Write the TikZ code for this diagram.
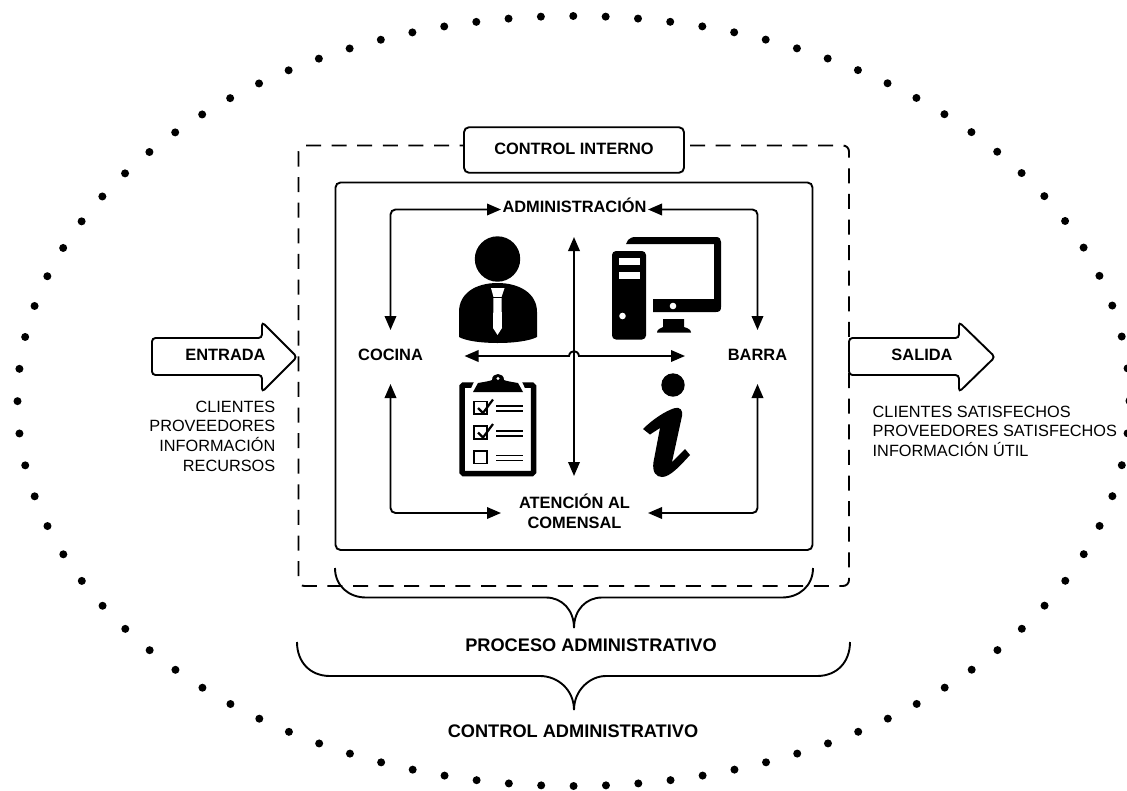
\documentclass[tikz,border=0pt]{standalone}
\usepackage{fontspec}
\setmainfont{Liberation Sans}
\usetikzlibrary{arrows.meta}
\tikzset{
  x=1pt,y=-1pt,
  ln/.style={line width=1.9pt,black},
  conn/.style={ln,rounded corners=5pt},
  tips/.style={{Triangle[length=14pt,width=11.5pt]}-{Triangle[length=14pt,width=11.5pt]}},
  hd/.style={font=\fontsize{16.4}{19.8}\selectfont\bfseries,inner sep=0pt,text height=11.8pt,text depth=0pt,align=center},
  hdbig/.style={font=\fontsize{18.2}{22}\selectfont\bfseries,inner sep=0pt,text height=13pt,text depth=0pt,align=center},
  tx/.style={font=\fontsize{16.3}{19.7}\selectfont,inner sep=0pt},
  block/.style={ln,rounded corners=5pt},
  bigarrow/.style={ln,fill=white,rounded corners=3.5pt},
  brace/.style={ln,fill=none},
  ico/.style={fill=black,draw=none},
  gap/.style={fill=white,draw=none}
}
\begin{document}
\begin{tikzpicture}
\useasboundingbox (0,0) rectangle (1127,790);
\fill[white] (0,0) rectangle (1127,790);
% dotted ellipse
\begin{scope}
\clip (0,0) rectangle (1127,790);
\draw[line width=8pt,line cap=round,dash pattern=on 0pt off 32.4pt] (573.5,401) ellipse [x radius=556,y radius=385];
\end{scope}
% dashed internal control box
\draw[ln,rounded corners=6pt,dash pattern=on 15pt off 10.6pt] (298.5,145.5) rectangle (849,586);
\node[block,draw,fill=white,minimum width=220pt,minimum height=45.5pt,hd,text height=13.8pt,text depth=0pt] (ctrl) at (574,150) {\raisebox{2pt}{CONTROL INTERNO}};
% inner box
\draw[block] (335.5,182.5) rectangle (812.5,550);
% nodes
\node[hd] (admin) at (574.5,207) {ADMINISTRACIÓN};
\node[hd] (cocina) at (390.5,355) {COCINA};
\node[hd] (barra) at (757.5,355) {BARRA};
\node[font=\fontsize{16.4}{19.8}\selectfont\bfseries,inner sep=0pt,align=center] (atencion) at (574.5,511.5) {ATENCIÓN AL\\COMENSAL};
% anchors of connectors
\coordinate (adminL) at (501,209.5);
\coordinate (adminR) at (648,209.5);
\coordinate (cocinaT) at (390.5,330);
\coordinate (cocinaB) at (390.5,384);
\coordinate (barraT) at (757.5,330);
\coordinate (barraB) at (757.5,384);
\coordinate (atenL) at (501,513);
\coordinate (atenR) at (648,513);
\coordinate (crossT) at (574,237);
\coordinate (crossB) at (574,476);
\coordinate (crossL) at (464.5,356);
\coordinate (crossR) at (685,356);
\coordinate (jumpL) at (569,356);
\coordinate (jumpR) at (579,356);
\draw[conn,tips] (cocinaT) |- (adminL);
\draw[conn,tips] (barraT) |- (adminR);
\draw[conn,tips] (cocinaB) |- (atenL);
\draw[conn,tips] (barraB) |- (atenR);
\draw[ln,tips] (crossT) -- (crossB);
\draw[ln,tips] (crossL) -- (jumpL) .. controls (570,349.5) and (578,349.5) .. (jumpR) -- (crossR);
% person
\fill[ico] (497.5,259) circle (22.7);
\fill[ico] (459,337) -- (459,312) .. controls (459,293) and (476,283) .. (497.5,283) .. controls (519,283) and (537,293) .. (537,312) -- (537,337) .. controls (522,345) and (473,345) .. (459,337) -- cycle;
\fill[gap] (491,288) -- (504.5,288) -- (501.5,297) -- (502,328) -- (497.5,335) -- (493,328) -- (493.5,297) -- cycle;
\fill[ico] (492.8,297) -- (502.2,297) -- (502.2,298.3) -- (492.8,298.3) -- cycle;
% computer
\fill[ico] (626,244) -- (628,240) .. controls (630,238) and (632,237) .. (636,237) -- (716,237) .. controls (719.5,237) and (721,239) .. (721,242) -- (721,307) .. controls (721,310.5) and (719.5,312) .. (716,312) -- (653,312) -- (653,299) -- (714,299) -- (714,244) -- cycle;
\fill[gap] (673,306) circle (3.3);
\fill[ico] (663,319) -- (684,319) -- (684,327) .. controls (688,328) and (691,330) .. (691,332.5) -- (657,332.5) .. controls (657,330) and (660,328) .. (663,327) -- cycle;
\fill[ico,rounded corners=4pt] (612,251) rectangle (646,339.5);
\fill[gap] (619,258) rectangle (639.5,265);
\fill[gap] (619,271.5) rectangle (639.5,278.5);
\fill[gap] (622.5,316) circle (3.3);
% clipboard
\draw[line width=5.5pt,rounded corners=1.5pt] (462,385) rectangle (533.5,473.5);
\draw[gap,draw=white,line width=2pt] (470,393) -- (476,380) -- (520,380) -- (526,393) -- cycle;
\fill[ico] (473,392) -- (478,383) .. controls (484,382) and (490,381) .. (492,380) .. controls (492,372) and (504,372) .. (504,380) .. controls (506,381) and (512,382) .. (518,383) -- (523,392) -- cycle;
\fill[gap] (498,378.5) circle (1.7);
\draw[line width=1.8pt] (474,401.5) rectangle (487,414);
\draw[line width=1.8pt] (474,426) rectangle (487,439);
\draw[line width=1.8pt] (474,451) rectangle (487,463.5);
\fill[gap] (487.5,398) rectangle (495,408);
\fill[gap] (487.5,423) rectangle (495,433);
\draw[line width=2.2pt] (478,408) -- (483,413) -- (493,399.5);
\draw[line width=2.2pt] (478,432.5) -- (483,437.5) -- (493,424);
\foreach \yy in {406,411,431,436,455.5,460.5}{\draw[line width=1.9pt] (496,\yy) -- (523,\yy);}
% info i
\fill[ico] (673,385) circle (11.7);
\fill[ico] (643,429) -- (650,434.5) -- (660,428) -- (653.5,462) .. controls (652,472) and (656,477) .. (662,477) .. controls (670,477) and (680,466) .. (690,455) -- (685,449) -- (672,462) -- (682,416) .. controls (683,410) and (680,407) .. (675,408) .. controls (665,411) and (652,420) .. (643,429) -- cycle;
% big arrows
\draw[bigarrow] (152,338) -- (262,338) -- (262,322) -- (297,357) -- (262,392) -- (262,375) -- (152,375) -- cycle;
\draw[bigarrow] (849,338) -- (959,338) -- (959,322) -- (995,357) -- (959,392) -- (959,375) -- (849,375) -- cycle;
\node[hd] (entrada) at (225.5,355) {ENTRADA};
\node[hd] (salida) at (922,355) {SALIDA};
% side texts
\node[tx,align=right,anchor=north east] (inputs) at (275.5,400.5) {CLIENTES\\PROVEEDORES\\INFORMACIÓN\\RECURSOS};
\node[tx,align=left,anchor=north west] (outputs) at (872.5,405.5) {CLIENTES SATISFECHOS\\PROVEEDORES SATISFECHOS\\INFORMACIÓN ÚTIL};
% braces
\draw[brace] (335,568) .. controls (335,586) and (349,597.5) .. (366,597.5) -- (546,597.5) .. controls (562,597.5) and (574,610) .. (574,628);
\draw[brace] (813,568) .. controls (813,586) and (799,597.5) .. (782,597.5) -- (602,597.5) .. controls (586,597.5) and (574,610) .. (574,628);
\draw[brace] (297,642) .. controls (297,662) and (310,676) .. (330,676) -- (540,676) .. controls (558,676) and (574,690) .. (574,710);
\draw[brace] (850,642) .. controls (850,662) and (837,676) .. (817,676) -- (606,676) .. controls (590,676) and (574,690) .. (574,710);
\node[hdbig] (proceso) at (591,645) {PROCESO ADMINISTRATIVO};
\node[hdbig] (cadmin) at (573,731) {CONTROL ADMINISTRATIVO};
\end{tikzpicture}
\end{document}
